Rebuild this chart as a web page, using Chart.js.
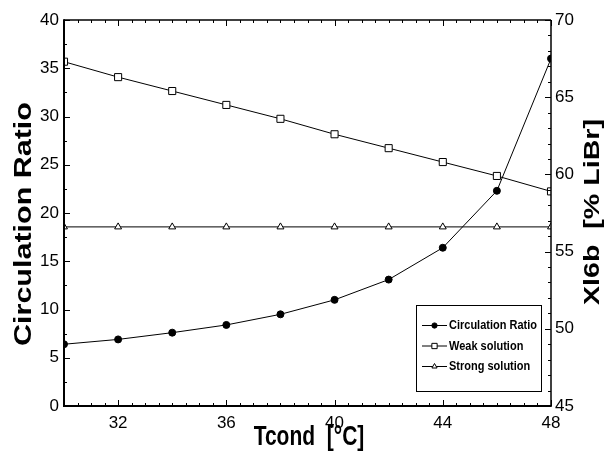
<!DOCTYPE html>
<html>
<head>
<meta charset="utf-8">
<script src="https://cdn.jsdelivr.net/npm/chart.js@4.4.0/dist/chart.umd.min.js"></script>
<style>
  html, body { margin: 0; padding: 0; background: #fff; }
</style>
</head>
<body>
<canvas id="chart" width="607" height="460"></canvas>
<script>
"use strict";

// Condenser temperature [°C]
const tcond = [30, 32, 34, 36, 38, 40, 42, 44, 46, 48];

// Circulation ratio (left axis)
const circulationRatio = [6.4, 6.9, 7.6, 8.4, 9.5, 11.0, 13.1, 16.4, 22.3, 36.0];

// Solution concentration [% LiBr] (right axis)
const weakSolution = [67.3, 66.3, 65.4, 64.5, 63.6, 62.6, 61.7, 60.8, 59.9, 58.9];
const strongSolution = [56.6, 56.6, 56.6, 56.6, 56.6, 56.6, 56.6, 56.6, 56.6, 56.6];

// Labelled ticks
const xTicks = [32, 36, 40, 44, 48];
const leftTicks = [0, 5, 10, 15, 20, 25, 30, 35, 40];
const rightTicks = [45, 50, 55, 60, 65, 70];

const FONT_FAMILY = "'Liberation Sans', Arial, sans-serif";
const TICK_FONT = { family: FONT_FAMILY, size: 17 };

const toPoints = values => values.map((v, i) => ({ x: tcond[i], y: v }));

// Plain stroked segment
const line = (ctx, x1, y1, x2, y2) => {
    ctx.beginPath();
    ctx.moveTo(x1, y1);
    ctx.lineTo(x2, y2);
    ctx.stroke();
};

// Text anchored at (x, y), optionally rotated and stretched
const stretchedText = (ctx, text, x, y, font, angle, sx, sy, align = 'center') => {
    ctx.save();
    ctx.translate(x, y);
    ctx.rotate(angle);
    ctx.scale(sx, sy);
    ctx.font = font;
    ctx.textAlign = align;
    ctx.textBaseline = 'middle';
    ctx.fillStyle = '#000';
    ctx.fillText(text, 0, 0);
    ctx.restore();
};

/** FRAME, INWARD TICKS AND AXIS TITLES */
const axisFrame = {
    id: 'axisFrame',
    afterDraw(chart) {
        const { ctx, chartArea: a, scales: { x, y, y1 } } = chart;
        ctx.save();
        ctx.strokeStyle = '#000';
        ctx.lineWidth = 1;

        // Bottom and top ticks, minor every 0.5 °C
        for (let v = 30; v <= 48; v += 0.5) {
            const px = Math.round(x.getPixelForValue(v)) + 0.5;
            const len = xTicks.includes(v) ? 6 : 3;
            line(ctx, px, a.bottom, px, a.bottom - len);
            line(ctx, px, a.top, px, a.top + len);
        }

        // Left ticks, minor at half steps
        for (let v = 0; v <= 40; v += 2.5) {
            const py = Math.round(y.getPixelForValue(v)) + 0.5;
            const len = leftTicks.includes(v) ? 6 : 3;
            line(ctx, a.left, py, a.left + len, py);
        }

        // Right ticks, minor every unit
        for (let v = 45; v <= 70; v += 1) {
            const py = Math.round(y1.getPixelForValue(v)) + 0.5;
            const len = rightTicks.includes(v) ? 6 : 3;
            line(ctx, a.right, py, a.right - len, py);
        }

        // Plot frame
        ctx.lineWidth = 1.5;
        line(ctx, a.left, a.top, a.right, a.top);
        line(ctx, a.right, a.top, a.right, a.bottom);
        ctx.lineWidth = 2;
        line(ctx, a.left, a.top - 0.75, a.left, a.bottom + 1);
        line(ctx, a.left - 1, a.bottom, a.right + 0.75, a.bottom);
        ctx.restore();

        // Axis titles
        stretchedText(ctx, 'Tcond  [°C]', 309, 438, `bold 21px ${FONT_FAMILY}`, 0, 1, 1.28);
        stretchedText(ctx, 'Circulation Ratio', 24, 224, `bold 24px ${FONT_FAMILY}`, -Math.PI / 2, 1.27, 1);
        stretchedText(ctx, 'Xl6b  [% LiBr]', 593, 212, `bold 22px ${FONT_FAMILY}`, -Math.PI / 2, 1.3, 1);
    }
};

/** LEGEND BOX INSIDE THE PLOT */
const boxLegend = {
    id: 'boxLegend',
    afterDraw(chart) {
        const { ctx } = chart;
        const left = 416, top = 305, width = 125, height = 86;

        ctx.save();
        ctx.fillStyle = '#fff';
        ctx.fillRect(left, top, width, height);
        ctx.strokeStyle = '#000';
        ctx.lineWidth = 1;
        ctx.strokeRect(left + 0.5, top + 0.5, width, height);

        chart.data.datasets.forEach((ds, i) => {
            const rowY = top + 20 + i * 20.5;
            ctx.strokeStyle = '#000';
            ctx.lineWidth = 1;
            line(ctx, left + 6, rowY + 0.5, left + 31, rowY + 0.5);

            ctx.fillStyle = ds.pointBackgroundColor;
            Chart.helpers.drawPoint(ctx, {
                pointStyle: ds.pointStyle,
                radius: ds.pointRadius * 0.75,
                borderWidth: 1,
                rotation: 0
            }, left + 18.5, rowY + 0.5);

            stretchedText(ctx, ds.label, left + 33, rowY + 1, `bold 11px ${FONT_FAMILY}`, 0, 1, 1.15, 'left');
        });
        ctx.restore();
    }
};

/** INITIALIZE CHART */
const chart = new Chart(document.getElementById('chart').getContext('2d'), {
    type: 'line',
    data: {
        datasets: [{
            label: 'Circulation Ratio',
            data: toPoints(circulationRatio),
            yAxisID: 'y',
            borderColor: '#000',
            borderWidth: 1,
            pointStyle: 'circle',
            pointRadius: 3.5,
            pointBackgroundColor: '#000',
            pointBorderColor: '#000',
            pointBorderWidth: 1,
        }, {
            label: 'Weak solution',
            data: toPoints(weakSolution),
            yAxisID: 'y1',
            borderColor: '#000',
            borderWidth: 1,
            pointStyle: 'rect',
            pointRadius: 5,
            pointBackgroundColor: '#fff',
            pointBorderColor: '#000',
            pointBorderWidth: 1,
        }, {
            label: 'Strong solution',
            data: toPoints(strongSolution),
            yAxisID: 'y1',
            borderColor: '#000',
            borderWidth: 1,
            pointStyle: 'triangle',
            pointRadius: 4,
            pointBackgroundColor: '#fff',
            pointBorderColor: '#000',
            pointBorderWidth: 1,
        }]
    },
    options: {
        responsive: false,
        animation: false,
        devicePixelRatio: 1,
        layout: { padding: { top: 20 } },
        plugins: {
            legend: { display: false },
            tooltip: { enabled: false }
        },
        scales: {
            x: {
                type: 'linear',
                min: 30,
                max: 48,
                grid: { display: false, drawTicks: false },
                border: { display: false },
                afterBuildTicks: scale => { scale.ticks = xTicks.map(value => ({ value })); },
                afterFit: scale => { scale.height = 54; },
                ticks: { color: '#000', font: TICK_FONT, padding: 7, maxRotation: 0 }
            },
            y: {
                position: 'left',
                min: 0,
                max: 40,
                grid: { display: false, drawTicks: false },
                border: { display: false },
                afterBuildTicks: scale => { scale.ticks = leftTicks.map(value => ({ value })); },
                afterFit: scale => { scale.width = 64; },
                ticks: { color: '#000', font: TICK_FONT, padding: 5 }
            },
            y1: {
                position: 'right',
                min: 45,
                max: 70,
                grid: { display: false, drawTicks: false },
                border: { display: false },
                afterBuildTicks: scale => { scale.ticks = rightTicks.map(value => ({ value })); },
                afterFit: scale => { scale.width = 56; },
                ticks: { color: '#000', font: TICK_FONT, padding: 4 }
            }
        }
    },
    plugins: [axisFrame, boxLegend]
});
</script>
</body>
</html>
